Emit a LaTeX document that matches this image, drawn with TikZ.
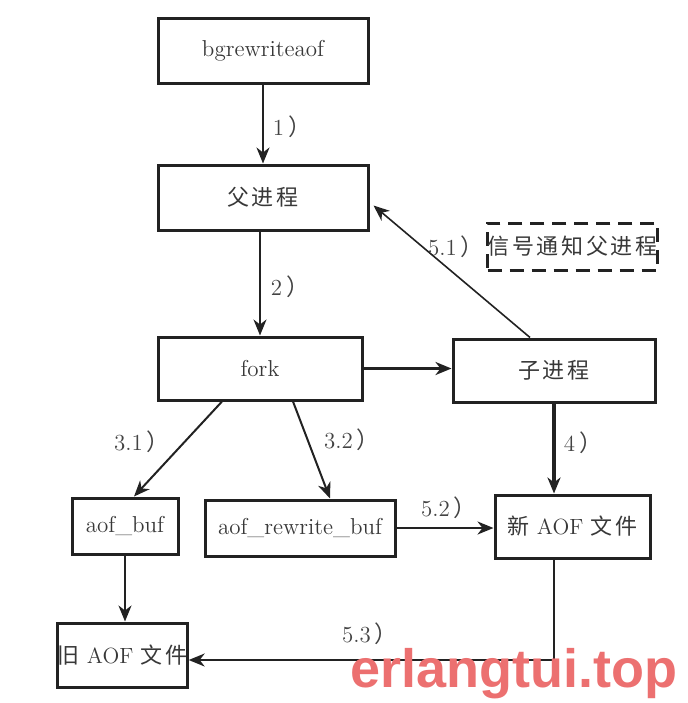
\documentclass[tikz,border=0pt]{standalone}
\usepackage{fontspec}
\newfontfamily\cjk[LetterSpace=12]{Noto Sans CJK SC}
\newfontfamily\markfont{Liberation Sans}
\usetikzlibrary{calc,positioning,arrows.meta}
\definecolor{inkgrey}{RGB}{34,34,34}
\definecolor{markred}{RGB}{236,112,112}
\tikzset{
  box/.style={
    draw=inkgrey,
    line width=1.5pt,
    inner sep=0pt,
    text=inkgrey!90,
    font=\fontsize{11}{13}\selectfont
  },
  box-dashed/.style={
    box,
    dash pattern=on 7pt off 4pt
  },
  conn/.style={
    draw=inkgrey,
    line width=1pt,
    -{Stealth[length=8pt,width=6.5pt,inset=2.5pt]}
  },
  conn-bold/.style={conn,line width=1.7pt},
  conn-thin/.style={conn,line width=0.8pt},
  step-label/.style={font=\fontsize{11.5}{13}\selectfont, text=inkgrey!85, inner sep=1pt}
}
\newcommand{\stepno}[1]{#1\,{\cjk ）}}

\begin{document}
\begin{tikzpicture}[x=0.5pt,y=-0.5pt]
  \useasboundingbox (0,0) rectangle (688,703);
  % Boxes
  \node[box, minimum width=105pt, minimum height=32.5pt] (bgr) at (263,50.5) {\fontsize{11.5}{13}\selectfont bgrewriteaof};
  \node[box, minimum width=105pt, minimum height=32.5pt] (parent) at (263,197.5) {\cjk 父进程};
  \node[box-dashed, minimum width=84.5pt, minimum height=23.5pt] (signal) at (572.5,246.5) {\cjk 信号通知父进程};
  \node[step-label, left=0pt of signal] (l51) {\stepno{5.1}};
  \node[box, minimum width=102pt, minimum height=31.5pt] (fork) at (260,368.5) {\fontsize{11.5}{13}\selectfont fork};
  \node[box, minimum width=101pt, minimum height=31.5pt] (child) at (554,370.5) {\cjk 子进程};
  \node[box, minimum width=53pt, minimum height=28pt] (aofbuf) at (125,526) {\fontsize{11.5}{13}\selectfont aof\_buf};
  \node[box, minimum width=95pt, minimum height=28pt] (rwbuf) at (300,528) {\fontsize{11.5}{13}\selectfont aof\_rewrite\_buf};
  \node[box, minimum width=77.5pt, minimum height=31.5pt] (newaof) at (572.5,526.5) {{\cjk 新} AOF {\cjk 文件}};
  \node[box, minimum width=64.5pt, minimum height=32pt] (oldaof) at (122.5,655) {{\cjk 旧} AOF {\cjk 文件}};
  % Steps
  \draw[conn] (bgr.south) -- (parent.north);
  \node[step-label] (l1) at (292,127) {\stepno{1}};
  \draw[conn] (fork.north |- parent.south) -- (fork.north);
  \node[step-label] (l2) at (290,287) {\stepno{2}};
  \draw[conn-bold] (fork.east) -- (fork.east -| child.west);
  \draw[conn-thin] ($(child.north)+(-24,0)$) -- ($(parent.east)+(4,8)$);
  \draw[conn] ($(fork.south)+(-38,0)$) -- ($(aofbuf.north)+(9,0)$);
  \node[step-label] (l31) at (142,442) {\stepno{3.1}};
  \draw[conn] ($(fork.south)+(33,0)$) -- ($(rwbuf.north)+(30,0)$);
  \node[step-label] (l32) at (352,440) {\stepno{3.2}};
  \draw[conn-bold] (child.south) -- (child.south |- newaof.north);
  \node[step-label] (l4) at (583,443) {\stepno{4}};
  \draw[conn] (rwbuf.east) -- (rwbuf.east -| newaof.west);
  \node[step-label] (l52) at (449,508) {\stepno{5.2}};
  \draw[conn] (aofbuf.south) -- (aofbuf.south |- oldaof.north);
  % New file replaces the old one
  \coordinate (turn) at ($(oldaof.east)+(0,5)$);
  \draw[conn] (newaof.south -| child.south) |- (turn);
  \node[step-label] (l53) at (370,634) {\stepno{5.3}};
  % Watermark
  \node[anchor=base west, inner sep=0pt, text=markred, font=\markfont\bfseries\fontsize{27}{30}\selectfont] (mark) at (350,687) {erlangtui.top};
\end{tikzpicture}
\end{document}
